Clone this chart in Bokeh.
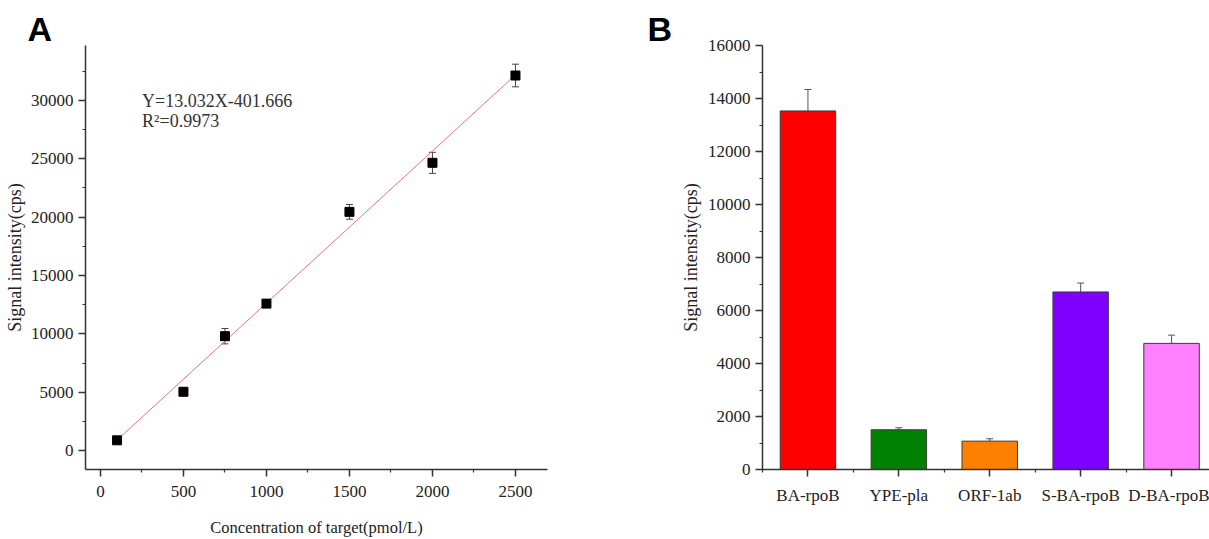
from bokeh.plotting import figure
from bokeh.models import Range1d, FixedTicker, Whisker, ColumnDataSource, Label, TeeHead
from bokeh.layouts import row
from bokeh.embed import file_html
from bokeh.resources import INLINE

# ---------------- Panel A data ----------------
conc = [100, 500, 750, 1000, 1500, 2000, 2500]
signal = [880, 5040, 9800, 12590, 20450, 24650, 32130]
signal_err = [200, 180, 660, 300, 630, 900, 970]
fit_x = [100, 2500]
slope = 13.032
intercept = -401.666
x_ticks_A = [0, 500, 1000, 1500, 2000, 2500]
y_ticks_A = [0, 5000, 10000, 15000, 20000, 25000, 30000]
eq_text = "Y=13.032X-401.666"
r2_text = "R\u00b2=0.9973"

# ---------------- Panel B data ----------------
probes = ["BA-rpoB", "YPE-pla", "ORF-1ab", "S-BA-rpoB", "D-BA-rpoB"]
intensity = [13530, 1500, 1070, 6700, 4760]
intensity_err = [810, 75, 90, 335, 310]
bar_colors = ["#FF0000", "#008000", "#FF8000", "#8000FF", "#FF80FF"]
y_ticks_B = [0, 2000, 4000, 6000, 8000, 10000, 12000, 14000, 16000]

SERIF = "Liberation Serif"
AX = "#333333"
TXT = "#222222"


def style_axes(p, letter, letter_offset):
    for ax in (p.xaxis[0], p.yaxis[0]):
        ax.axis_line_color = AX
        ax.axis_line_width = 1.5
        ax.major_tick_line_color = AX
        ax.major_tick_line_width = 1.5
        ax.minor_tick_line_color = AX
        ax.minor_tick_line_width = 1.2
        ax.major_tick_in = 0
        ax.major_tick_out = 7
        ax.minor_tick_in = 0
        ax.minor_tick_out = 3
        ax.major_label_text_font = SERIF
        ax.major_label_text_font_size = "17px"
        ax.major_label_text_color = TXT
        ax.axis_label_text_font = SERIF
        ax.axis_label_text_font_style = "normal"
        ax.axis_label_text_color = TXT
    p.xaxis.axis_label_text_font_size = "16.5px"
    p.yaxis.axis_label_text_font_size = "18px"
    p.xgrid.visible = False
    p.ygrid.visible = False
    p.outline_line_color = None
    p.background_fill_color = "white"
    p.border_fill_color = "white"
    p.title.text = letter
    p.title.text_font = "Liberation Sans"
    p.title.text_font_size = "34px"
    p.title.text_font_style = "bold"
    p.title.text_color = "black"
    p.title.align = "left"
    p.title.offset = letter_offset
    p.title.standoff = -4


# ================= Panel A =================
pA = figure(width=640, height=539, x_range=Range1d(-90, 2693), y_range=Range1d(-1620, 34700),
            output_backend="svg", toolbar_location=None,
            min_border_left=85, min_border_right=93, min_border_top=45, min_border_bottom=68)
style_axes(pA, "A", -58)
pA.xaxis.ticker = FixedTicker(ticks=x_ticks_A, minor_ticks=[t + 250 for t in x_ticks_A])
pA.yaxis.ticker = FixedTicker(ticks=y_ticks_A, minor_ticks=[t + 2500 for t in y_ticks_A])
pA.xaxis.axis_label = "Concentration of target(pmol/L)"
pA.yaxis.axis_label = "Signal intensity(cps)"
pA.xaxis.major_label_standoff = 9
pA.xaxis.axis_label_standoff = 18
pA.yaxis.major_label_standoff = 5
pA.yaxis.axis_label_standoff = 3

fit_y = [slope * x + intercept for x in fit_x]
pA.line(fit_x, fit_y, line_color="#EE7575", line_width=1)

srcA = ColumnDataSource(dict(x=conc, y=signal,
                             lo=[s - e for s, e in zip(signal, signal_err)],
                             hi=[s + e for s, e in zip(signal, signal_err)]))
wA = Whisker(base="x", lower="lo", upper="hi", source=srcA, line_color="#444444", line_width=1,
             upper_head=TeeHead(size=7, line_color="#444444", line_width=1),
             lower_head=TeeHead(size=7, line_color="#444444", line_width=1))
pA.add_layout(wA)
pA.scatter("x", "y", source=srcA, marker="square", size=9, fill_color="black", line_color="black")

pA.add_layout(Label(x=251, y=29940, text=eq_text, text_font=SERIF, text_font_size="18px",
                    text_color="#333333", text_baseline="middle", text_align="left"))
pA.add_layout(Label(x=251, y=28250, text=r2_text, text_font=SERIF, text_font_size="18px",
                    text_color="#333333", text_baseline="middle", text_align="left"))

# ================= Panel B =================
unit = 90.9
frame_w_B = 447
pB = figure(width=569, height=539, x_range=Range1d(0, frame_w_B / unit), y_range=Range1d(0, 16000),
            output_backend="svg", toolbar_location=None,
            min_border_left=122, min_border_right=0, min_border_top=45, min_border_bottom=68)
style_axes(pB, "B", -115)
xpos = [i + 0.5 for i in range(len(probes))]
pB.xaxis.ticker = FixedTicker(ticks=xpos, minor_ticks=list(range(len(probes) + 1)))
pB.xaxis.major_label_overrides = {x: name for x, name in zip(xpos, probes)}
pB.yaxis.ticker = FixedTicker(ticks=y_ticks_B, minor_ticks=[t + 1000 for t in y_ticks_B])
pB.yaxis.axis_label = "Signal intensity(cps)"
pB.xaxis.major_label_standoff = 9
pB.yaxis.major_label_standoff = 5
pB.yaxis.axis_label_standoff = 4

srcB = ColumnDataSource(dict(x=xpos, top=intensity, color=bar_colors,
                             lo=[v - e for v, e in zip(intensity, intensity_err)],
                             hi=[v + e for v, e in zip(intensity, intensity_err)]))
pB.vbar(x="x", top="top", bottom=0, width=0.61, source=srcB, fill_color="color",
        line_color="#3a3a3a", line_width=1)
wB = Whisker(base="x", lower="lo", upper="hi", source=srcB, line_color="#555555", line_width=1,
             upper_head=TeeHead(size=7, line_color="#555555", line_width=1),
             lower_head=TeeHead(size=7, line_color="#555555", line_width=1))
pB.add_layout(wB)

layout = row(pA, pB, spacing=0)
open("out.html", "w").write(file_html(layout, INLINE))
